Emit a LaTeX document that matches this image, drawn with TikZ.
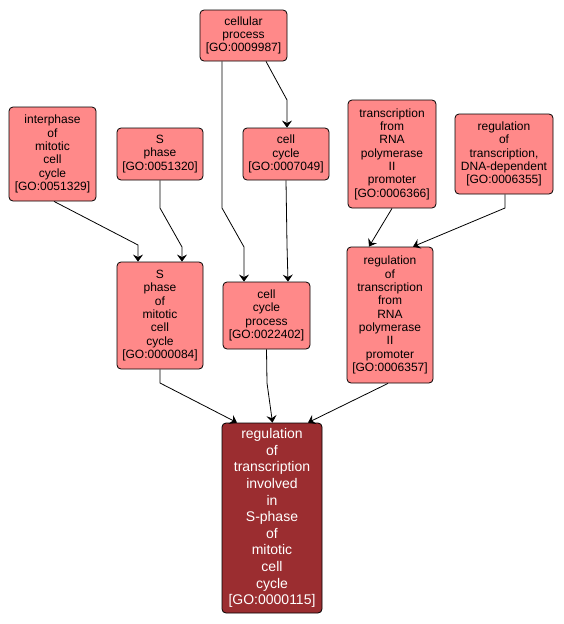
\documentclass[tikz,border=0pt]{standalone}
\usepackage{fontspec}
\setmainfont{Liberation Sans}
\usetikzlibrary{arrows.meta}
\definecolor{goFill}{RGB}{255,137,137}
\definecolor{goMain}{RGB}{155,45,48}
\tikzset{
  gonode/.style={draw=black, line width=0.8pt, rounded corners=4pt, fill=goFill,
    align=center, inner sep=0pt, font=\fontsize{12}{13.3}\selectfont, text=black},
  mainnode/.style={gonode, fill=goMain, text=white, font=\fontsize{14}{16.6}\selectfont},
  arr/.style={draw=black, line width=0.8pt, -{Stealth[length=7pt,width=10pt,inset=2.5pt]}}
}
\begin{document}
\begin{tikzpicture}[x=1pt,y=-1pt]
\useasboundingbox (0,0) rectangle (564,624);
\node[gonode, minimum width=87pt, minimum height=51pt] (cp) at (243.5,35.5) {cellular\\process\\{[GO:0009987]}};
\node[gonode, minimum width=87pt, minimum height=94pt] (ip) at (52.5,154) {interphase\\of\\mitotic\\cell\\cycle\\{[GO:0051329]}};
\node[gonode, minimum width=86pt, minimum height=52pt] (sp) at (160,154) {S\\phase\\{[GO:0051320]}};
\node[gonode, minimum width=86pt, minimum height=52pt] (cc) at (286,154) {cell\\cycle\\{[GO:0007049]}};
\node[gonode, minimum width=88pt, minimum height=108pt] (tr) at (392,154) {transcription\\from\\RNA\\polymerase\\II\\promoter\\{[GO:0006366]}};
\node[gonode, minimum width=98pt, minimum height=80pt] (rd) at (504,154) {regulation\\of\\transcription,\\DNA-dependent\\{[GO:0006355]}};
\node[gonode, minimum width=86pt, minimum height=107pt] (spm) at (160,315.5) {S\\phase\\of\\mitotic\\cell\\cycle\\{[GO:0000084]}};
\node[gonode, minimum width=87pt, minimum height=67pt] (ccp) at (266.5,315.5) {cell\\cycle\\process\\{[GO:0022402]}};
\node[gonode, minimum width=86pt, minimum height=136pt] (rr) at (390,315) {regulation\\of\\transcription\\from\\RNA\\polymerase\\II\\promoter\\{[GO:0006357]}};
\node[mainnode, minimum width=100pt, minimum height=190pt] (bot) at (272,518) {regulation\\of\\transcription\\involved\\in\\S-phase\\of\\mitotic\\cell\\cycle\\{[GO:0000115]}};

\draw[arr] ([xshift=22.5pt]cp.south) -- (287,100) -- ([xshift=1pt]cc.north);
\draw[arr] ([xshift=-21.5pt]cp.south) -- (222,208) -- (244,247) -- ([xshift=-22.5pt]ccp.north);
\draw[arr] (cc.south) -- (287,245) -- ([xshift=21.5pt]ccp.north);
\draw[arr] ([xshift=1.5pt]ip.south) -- (138,245) -- ([xshift=-22pt]spm.north);
\draw[arr] (sp.south) -- (160,208) -- (182,247) -- ([xshift=22pt]spm.north);
\draw[arr] (tr.south) -- ([xshift=-21pt]rr.north);
\draw[arr] ([xshift=1pt]rd.south) -- (505,208) -- ([xshift=23pt]rr.north);
\draw[arr] (spm.south) -- (160,383) -- ([xshift=-35pt]bot.north);
\draw[arr] (ccp.south) -- (267,383) -- ([xshift=0.5pt]bot.north);
\draw[arr] ([xshift=-2pt]rr.south) -- ([xshift=36pt]bot.north);
\end{tikzpicture}
\end{document}
